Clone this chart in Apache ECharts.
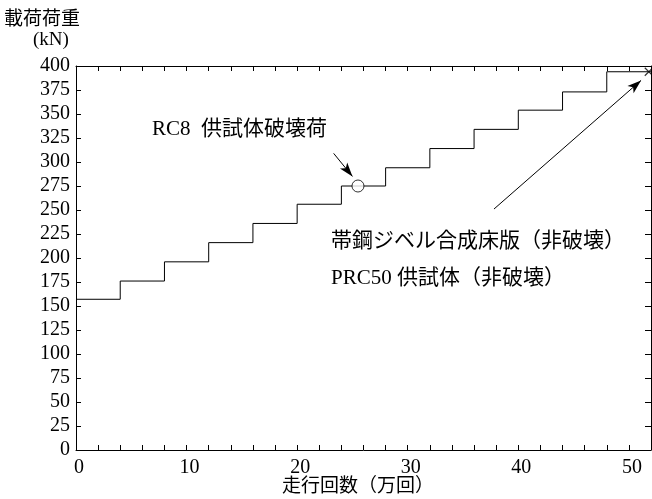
<!DOCTYPE html>
<html>
<head>
<meta charset="utf-8">
<script src="https://cdn.jsdelivr.net/npm/echarts@6/dist/echarts.min.js"></script>
<style>
  html, body { margin: 0; padding: 0; background: #fff; }
  #main { width: 652px; height: 499px; }
</style>
</head>
<body>
<div id="main"></div>
<script>
// 走行回数 (万回) where the load steps up, and load level (kN) held from that point
var runCounts = [0, 4, 8, 12, 16, 20, 24, 28, 32, 36, 40, 44, 48, 52];
var loadLevels = [157, 176, 196, 216, 236, 256, 275, 294, 314, 334, 354, 373, 394, 394];

// RC8 specimen failure point
var rc8Failure = [25.5, 275];
// end of PRC50 test (non-failure)
var prcEnd = [51.8, 394];

// annotation arrows [from, to]
var rc8Arrow = [[23.3, 309], [25.0, 285]];
var prcArrow = [[37.8, 251], [51.1, 385]];

var yTicks = { min: 0, max: 400, step: 25 };
var xTicks = { min: 0, max: 52, step: 2, labelEvery: 10 };

var serif = 'Liberation Serif';
var jp = '"Noto Sans CJK JP", sans-serif';

var chart = echarts.init(document.getElementById('main'));

var lineStyle = { color: '#000', width: 1 };
var tickIn = { show: true, inside: true, length: 5, lineStyle: { color: '#000', width: 1 } };

var stepData = runCounts.map(function (x, i) { return [x, loadLevels[i]]; });

chart.setOption({
  animation: false,
  backgroundColor: '#fff',
  grid: { left: 76, right: 1, top: 66, bottom: 49 },
  xAxis: [{
    type: 'value', min: xTicks.min, max: xTicks.max, interval: xTicks.step,
    axisLine: { show: true, onZero: false, lineStyle: lineStyle },
    axisTick: tickIn,
    splitLine: { show: false },
    axisLabel: {
      color: '#000', fontFamily: serif, fontSize: 20, margin: 8, padding: [0, 0, 0, 6],
      showMaxLabel: false,
      formatter: function (v) { return v % xTicks.labelEvery === 0 ? String(v) : ''; }
    }
  }, {
    type: 'value', position: 'top', min: xTicks.min, max: xTicks.max, interval: xTicks.step,
    axisLine: { show: true, onZero: false, lineStyle: lineStyle },
    axisTick: tickIn,
    axisLabel: { show: false },
    splitLine: { show: false }
  }],
  yAxis: [{
    type: 'value', min: yTicks.min, max: yTicks.max, interval: yTicks.step,
    axisLine: { show: true, onZero: false, lineStyle: lineStyle },
    axisTick: tickIn,
    splitLine: { show: false },
    axisLabel: { color: '#000', fontFamily: serif, fontSize: 20, margin: 6 }
  }, {
    type: 'value', position: 'right', min: yTicks.min, max: yTicks.max, interval: yTicks.step,
    axisLine: { show: true, onZero: false, lineStyle: lineStyle },
    axisTick: { show: true, inside: true, length: 6, lineStyle: { color: '#000', width: 1 } },
    axisLabel: { show: false },
    splitLine: { show: false }
  }],
  series: [{
    type: 'line',
    step: 'end',
    data: stepData,
    showSymbol: false,
    symbol: 'none',
    lineStyle: { color: '#000', width: 1 },
    z: 2,
    markLine: {
      silent: true,
      symbol: ['none', 'arrow'],
      symbolSize: [7, 14],
      label: { show: false },
      lineStyle: { color: '#000', width: 1, type: 'solid' },
      data: [
        [{ coord: rc8Arrow[0] }, { coord: rc8Arrow[1] }],
        [{ coord: prcArrow[0] }, { coord: prcArrow[1] }]
      ]
    }
  }, {
    type: 'scatter',
    data: [rc8Failure],
    symbol: 'circle',
    symbolSize: 12,
    itemStyle: { color: '#fff', borderColor: '#000', borderWidth: 1 },
    z: 5
  }, {
    type: 'scatter',
    data: [prcEnd],
    symbol: 'path://M0,0L10,10M10,0L0,10',
    symbolSize: 8,
    itemStyle: { color: 'none', borderColor: '#000', borderWidth: 1.2 },
    z: 5
  }],
  graphic: [
    { type: 'text', left: 4, top: 8, style: { text: '載荷荷重', font: '19px ' + jp, fill: '#000' } },
    { type: 'text', left: 33, top: 31, style: { text: '(kN)', font: '19px ' + serif, fill: '#000' } },
    { type: 'text', left: 282, top: 475, style: { text: '走行回数（万回）', font: '19px ' + jp, fill: '#000' } },
    { type: 'text', left: 152, top: 119, style: { text: 'RC8  供試体破壊荷', font: '21px ' + serif + ', ' + jp, fill: '#000' } },
    { type: 'text', left: 331, top: 229, style: { text: '帯鋼ジベル合成床版（非破壊）', font: '21px ' + jp, fill: '#000' } },
    { type: 'text', left: 331, top: 268, style: { text: 'PRC50 供試体（非破壊）', font: '21px ' + serif + ', ' + jp, fill: '#000' } }
  ]
});
</script>
</body>
</html>
